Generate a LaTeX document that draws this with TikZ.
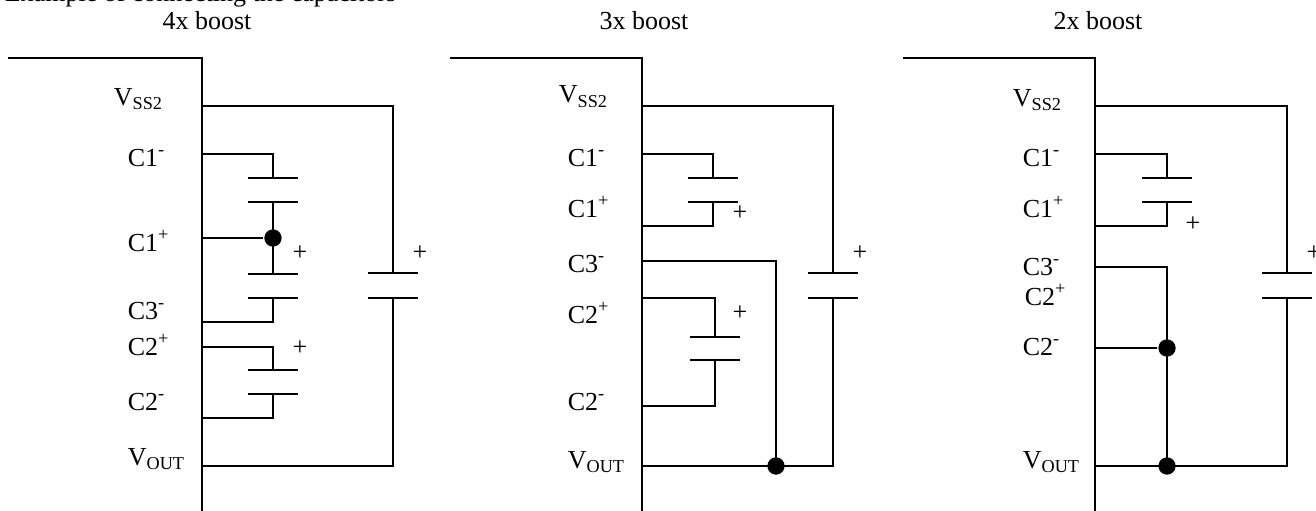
\documentclass[tikz,border=0pt]{standalone}
\usepackage{fontspec}
\setmainfont{Liberation Serif}

\tikzset{every picture/.style={line width=1.3pt}}
\tikzset{
  wire/.style={line width=1.3pt},
  pinlabel/.style={anchor=base west,inner sep=0pt,font=\fontsize{19.5}{23}\selectfont},
  title/.style={anchor=base,inner sep=0pt,font=\fontsize{19.5}{23}\selectfont},
  plus/.style={inner sep=0pt,font=\fontsize{19.5}{23}\selectfont},
  dot/.style={circle,fill=black,inner sep=0pt,minimum size=13}
}

\begin{document}
\begin{tikzpicture}[x=0.75pt,y=0.75pt,yscale=-1,xscale=1]
\useasboundingbox (0,0) rectangle (1316,510);
% clipped caption line
\node[pinlabel] (caption) at (4,1.5) {Example of connecting the capacitors};

%%%%%%%% 4x boost
\begin{scope}
\node[title] (a-title) at (207,30) {4x boost};
% bus
\draw[wire] (8,58) -- (202,58) -- (202,515);
\coordinate (a-vss) at (202,106);
\coordinate (a-c1m) at (202,154);
\coordinate (a-c1p) at (202,238);
\coordinate (a-c3m) at (202,322);
\coordinate (a-c2p) at (202,347);
\coordinate (a-c2m) at (202,418);
\coordinate (a-vout) at (202,466);
% Text Node
\node[pinlabel] (a-lvss) at (113,105) {V\textsubscript{SS2}};
\node[pinlabel] (a-lc1m) at (127,166) {C1\textsuperscript{-}};
\node[pinlabel] (a-lc1p) at (127,251) {C1\textsuperscript{+}};
\node[pinlabel] (a-lc3m) at (127,319) {C3\textsuperscript{-}};
\node[pinlabel] (a-lc2p) at (127,355) {C2\textsuperscript{+}};
\node[pinlabel] (a-lc2m) at (127,410) {C2\textsuperscript{-}};
\node[pinlabel] (a-lvout) at (127,465) {V\textsubscript{OUT}};
% output capacitor
\coordinate (a-ot) at (393,273);
\coordinate (a-ob) at (393,298);
\draw[wire] (a-vss) -| (a-ot);
\draw[wire] ([xshift=-18.4pt]a-ot) -- ([xshift=18.4pt]a-ot);
\draw[wire] ([xshift=-18.4pt]a-ob) -- ([xshift=18.4pt]a-ob);
\draw[wire] (a-ob) |- (a-vout);
\node[plus] (a-po) at (420,253) {+};
% C1 and C3 in series
\coordinate (a-1t) at (273,178);
\coordinate (a-1b) at (273,202);
\coordinate (a-3t) at (273,274);
\coordinate (a-3b) at (273,298);
\draw[wire] (a-c1m) -| (a-1t);
\draw[wire] ([xshift=-18.4pt]a-1t) -- ([xshift=18.4pt]a-1t);
\draw[wire] ([xshift=-18.4pt]a-1b) -- ([xshift=18.4pt]a-1b);
\draw[wire] (a-1b) -- (a-3t);
\draw[wire] ([xshift=-18.4pt]a-3t) -- ([xshift=18.4pt]a-3t);
\draw[wire] ([xshift=-18.4pt]a-3b) -- ([xshift=18.4pt]a-3b);
\draw[wire] (a-3b) |- (a-c3m);
\node[dot] (a-j1) at (273,238) {};
\draw[wire] (a-c1p) -- (a-j1);
\node[plus] (a-p13) at (300,253) {+};
% C2
\coordinate (a-2t) at (273,370);
\coordinate (a-2b) at (273,394);
\draw[wire] (a-c2p) -| (a-2t);
\draw[wire] ([xshift=-18.4pt]a-2t) -- ([xshift=18.4pt]a-2t);
\draw[wire] ([xshift=-18.4pt]a-2b) -- ([xshift=18.4pt]a-2b);
\draw[wire] (a-2b) |- (a-c2m);
\node[plus] (a-p2) at (300,348) {+};
\end{scope}

%%%%%%%% 3x boost
\begin{scope}[shift={(440,0)}]
\node[title] (b-title) at (204,30) {3x boost};
% bus
\draw[wire] (10,58) -- (202,58) -- (202,515);
\coordinate (b-vss) at (202,106);
\coordinate (b-c1m) at (202,154);
\coordinate (b-c1p) at (202,226);
\coordinate (b-c3m) at (202,261);
\coordinate (b-c2p) at (202,298);
\coordinate (b-c2m) at (202,406);
\coordinate (b-vout) at (202,466);
% Text Node
\node[pinlabel] (b-lvss) at (118,103) {V\textsubscript{SS2}};
\node[pinlabel] (b-lc1m) at (127,166) {C1\textsuperscript{-}};
\node[pinlabel] (b-lc1p) at (127,217) {C1\textsuperscript{+}};
\node[pinlabel] (b-lc3m) at (127,272) {C3\textsuperscript{-}};
\node[pinlabel] (b-lc2p) at (127,323) {C2\textsuperscript{+}};
\node[pinlabel] (b-lc2m) at (127,410) {C2\textsuperscript{-}};
\node[pinlabel] (b-lvout) at (127,468) {V\textsubscript{OUT}};
% output capacitor
\coordinate (b-ot) at (393,273);
\coordinate (b-ob) at (393,298);
\draw[wire] (b-vss) -| (b-ot);
\draw[wire] ([xshift=-18.4pt]b-ot) -- ([xshift=18.4pt]b-ot);
\draw[wire] ([xshift=-18.4pt]b-ob) -- ([xshift=18.4pt]b-ob);
\draw[wire] (b-ob) |- (b-vout);
\node[plus] (b-po) at (420,253) {+};
% C1
\coordinate (b-1t) at (273,178);
\coordinate (b-1b) at (273,202);
\draw[wire] (b-c1m) -| (b-1t);
\draw[wire] ([xshift=-18.4pt]b-1t) -- ([xshift=18.4pt]b-1t);
\draw[wire] ([xshift=-18.4pt]b-1b) -- ([xshift=18.4pt]b-1b);
\draw[wire] (b-1b) |- (b-c1p);
\node[plus] (b-p1) at (300,213) {+};
% C3- to output
\node[dot] (b-j1) at (336,466) {};
\draw[wire] (b-c3m) -| (b-j1.center);
% C2
\coordinate (b-2t) at (275,337);
\coordinate (b-2b) at (275,360);
\draw[wire] (b-c2p) -| (b-2t);
\draw[wire] ([xshift=-18.4pt]b-2t) -- ([xshift=18.4pt]b-2t);
\draw[wire] ([xshift=-18.4pt]b-2b) -- ([xshift=18.4pt]b-2b);
\draw[wire] (b-2b) |- (b-c2m);
\node[plus] (b-p2) at (300,313) {+};
\end{scope}

%%%%%%%% 2x boost
\begin{scope}[shift={(893,0)}]
\node[title] (c-title) at (205,30) {2x boost};
% bus
\draw[wire] (10,58) -- (202,58) -- (202,515);
\coordinate (c-vss) at (202,106);
\coordinate (c-c1m) at (202,154);
\coordinate (c-c1p) at (202,226);
\coordinate (c-c3m) at (202,267);
\coordinate (c-c2m) at (202,348);
\coordinate (c-vout) at (202,466);
% Text Node
\node[pinlabel] (c-lvss) at (119,106) {V\textsubscript{SS2}};
\node[pinlabel] (c-lc1m) at (129,166) {C1\textsuperscript{-}};
\node[pinlabel] (c-lc1p) at (129,217) {C1\textsuperscript{+}};
\node[pinlabel] (c-lc3m) at (129,275) {C3\textsuperscript{-}};
\node[pinlabel] (c-lc2p) at (131,305) {C2\textsuperscript{+}};
\node[pinlabel] (c-lc2m) at (129,355) {C2\textsuperscript{-}};
\node[pinlabel] (c-lvout) at (129,468) {V\textsubscript{OUT}};
% output capacitor
\coordinate (c-ot) at (394,273);
\coordinate (c-ob) at (394,298);
\draw[wire] (c-vss) -| (c-ot);
\draw[wire] ([xshift=-18.4pt]c-ot) -- ([xshift=18.4pt]c-ot);
\draw[wire] ([xshift=-18.4pt]c-ob) -- ([xshift=18.4pt]c-ob);
\draw[wire] (c-ob) |- (c-vout);
\node[plus] (c-po) at (421,253) {+};
% C1
\coordinate (c-1t) at (274,178);
\coordinate (c-1b) at (274,202);
\draw[wire] (c-c1m) -| (c-1t);
\draw[wire] ([xshift=-18.4pt]c-1t) -- ([xshift=18.4pt]c-1t);
\draw[wire] ([xshift=-18.4pt]c-1b) -- ([xshift=18.4pt]c-1b);
\draw[wire] (c-1b) |- (c-c1p);
\node[plus] (c-p1) at (300,224) {+};
% C3- and C2- to output
\node[dot] (c-j1) at (274,348) {};
\node[dot] (c-j2) at (274,466) {};
\draw[wire] (c-c3m) -| (c-j2.center);
\draw[wire] (c-c2m) -- (c-j1);
\end{scope}
\end{tikzpicture}
\end{document}
